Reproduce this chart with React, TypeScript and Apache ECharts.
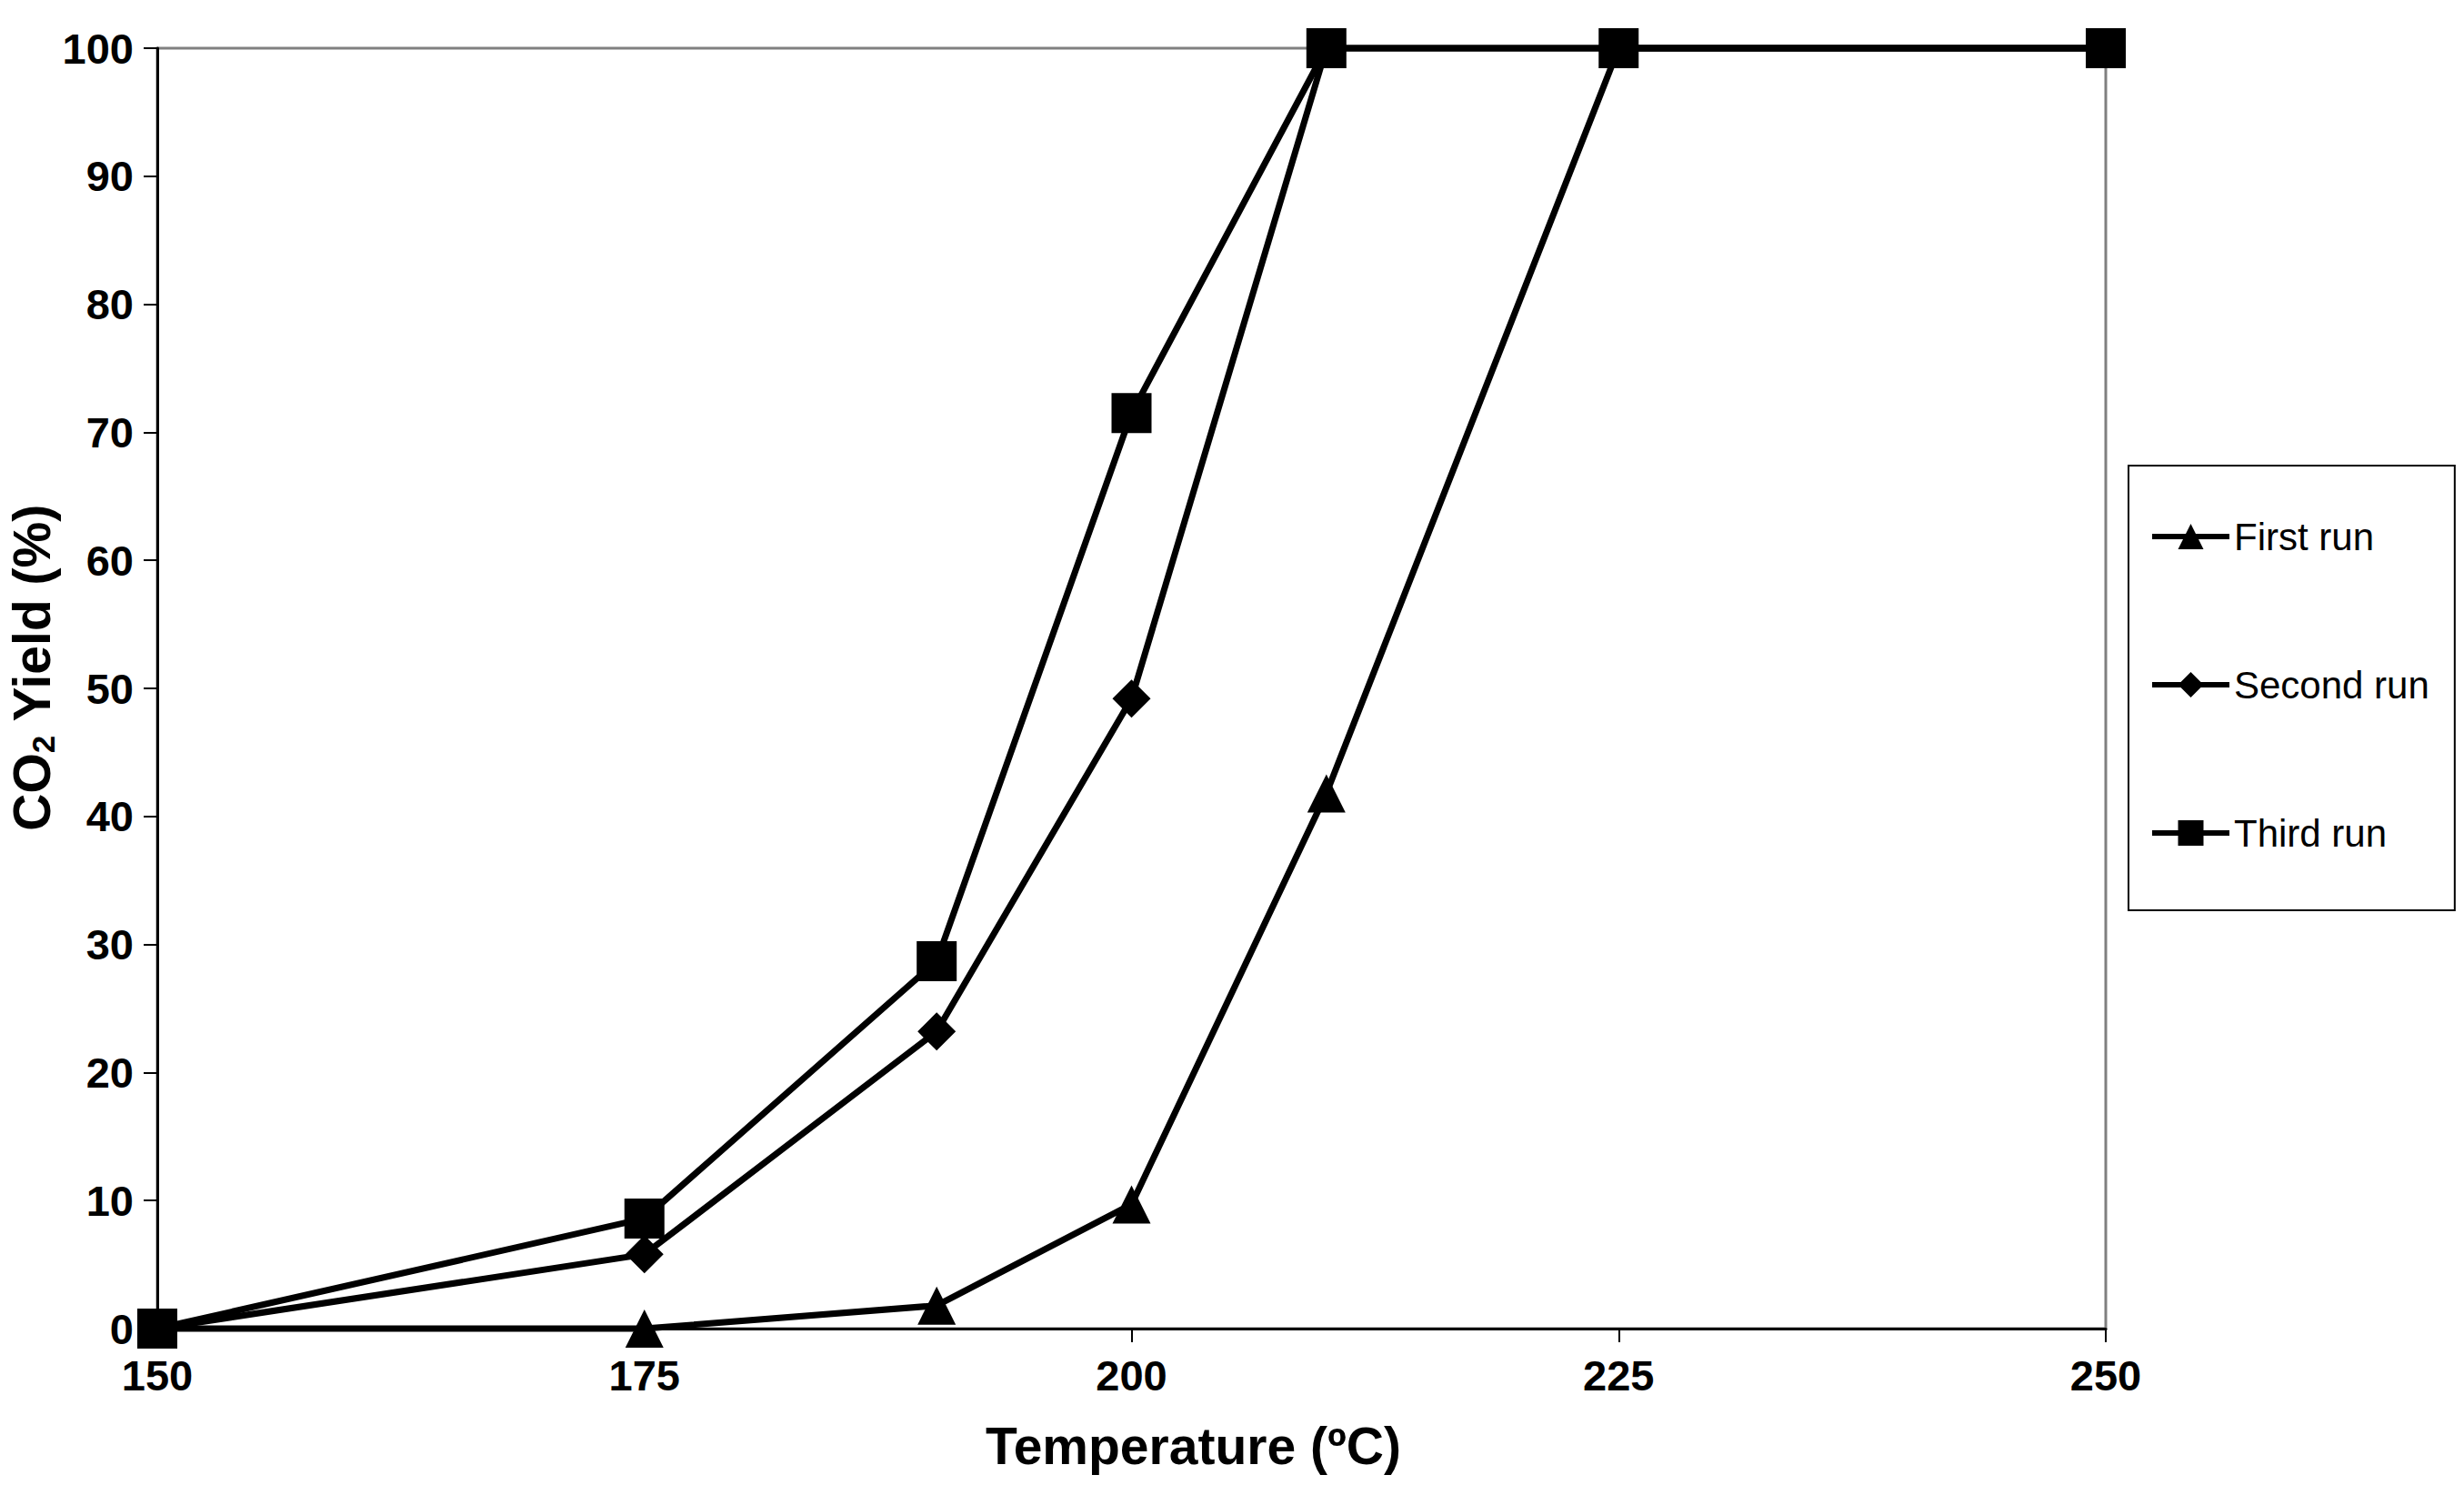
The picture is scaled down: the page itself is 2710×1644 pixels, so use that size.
import { useEffect, useRef } from "react";
import * as echarts from "echarts";

// temperatures (ºC) and CO2 yield (%)
const temps = [150, 175, 190, 200, 210, 225, 250];
const firstRun = [0, 0, 1.8, 9.7, 41.8, 100, 100];
const secondRun = [0, 5.8, 23.2, 49.2, 100, 100, 100];
const thirdRun = [0, 8.6, 28.7, 71.5, 100, 100, 100];

const seriesNames = ["First run", "Second run", "Third run"];
const seriesSymbols = ["triangle", "diamond", "rect"];
const seriesSizes = [42, 42, 44];

const FONT = "'Liberation Sans', Arial, sans-serif";

export default function App() {
  const chartRef = useRef<HTMLDivElement>(null);

  useEffect(() => {
    document.body.style.margin = "0";
    if (!chartRef.current) return;
    const chart = echarts.init(chartRef.current, undefined, { renderer: "svg" });

    const runs = [firstRun, secondRun, thirdRun];
    const option: echarts.EChartsOption = {
      animation: false,
      backgroundColor: "#fff",
      grid: {
        left: 173,
        top: 53,
        width: 2143,
        height: 1408,
        show: true,
        borderColor: "#808080",
        borderWidth: 3,
        outerBoundsMode: "none",
        containLabel: false,
      } as any,
      legend: {
        orient: "vertical",
        left: 2341,
        top: 512,
        itemWidth: 85,
        itemHeight: 35,
        itemGap: 121,
        padding: [57, 28, 64, 23],
        borderColor: "#000",
        borderWidth: 2,
        lineStyle: { width: 6 },
        textStyle: { fontFamily: FONT, fontSize: 42, color: "#000", lineHeight: 42 },
        data: seriesNames,
      },
      xAxis: {
        type: "value",
        min: 150,
        max: 250,
        interval: 25,
        name: "Temperature (ºC)",
        nameLocation: "middle",
        nameGap: 100,
        nameMoveOverlap: false,
        nameTextStyle: {
          fontFamily: FONT,
          fontSize: 57,
          fontWeight: "bold",
          color: "#000",
          padding: [0, 0, 0, 136],
        },
        axisLine: { show: true, lineStyle: { color: "#000", width: 3 } },
        axisTick: { show: true, length: 15, lineStyle: { color: "#000", width: 2 } },
        axisLabel: { fontFamily: FONT, fontSize: 47, fontWeight: "bold", color: "#000", margin: 28 },
        splitLine: { show: false },
      } as any,
      yAxis: {
        type: "value",
        min: 0,
        max: 100,
        interval: 10,
        name: "{b|CO}{s|2}{b| Yield (%)}",
        nameLocation: "middle",
        nameGap: 108,
        nameRotate: 90,
        nameMoveOverlap: false,
        nameTextStyle: {
          padding: [0, 0, 0, 46],
          rich: {
            b: { fontFamily: FONT, fontSize: 57, fontWeight: "bold", color: "#000", lineHeight: 60 },
            s: {
              fontFamily: FONT,
              fontSize: 35,
              fontWeight: "bold",
              color: "#000",
              lineHeight: 35,
              verticalAlign: "bottom",
            },
          },
        },
        axisLine: { show: true, lineStyle: { color: "#000", width: 3 } },
        axisTick: { show: true, length: 15, lineStyle: { color: "#000", width: 2 } },
        axisLabel: { fontFamily: FONT, fontSize: 47, fontWeight: "bold", color: "#000", margin: 26 },
        splitLine: { show: false },
      } as any,
      series: runs.map((vals, i) => ({
        name: seriesNames[i],
        type: "line",
        data: temps.map((t, j) => [t, vals[j]]),
        symbol: seriesSymbols[i],
        symbolSize: seriesSizes[i],
        showSymbol: true,
        clip: false,
        lineStyle: { color: "#000", width: 7 },
        itemStyle: { color: "#000" },
        emphasis: { disabled: true },
        z: 2 + i,
      })),
    };
    chart.setOption(option);

    const handleResize = () => chart.resize();
    window.addEventListener("resize", handleResize);
    return () => {
      window.removeEventListener("resize", handleResize);
      chart.dispose();
    };
  }, []);

  return <div ref={chartRef} style={{ width: "2710px", height: "1644px" }} />;
}
